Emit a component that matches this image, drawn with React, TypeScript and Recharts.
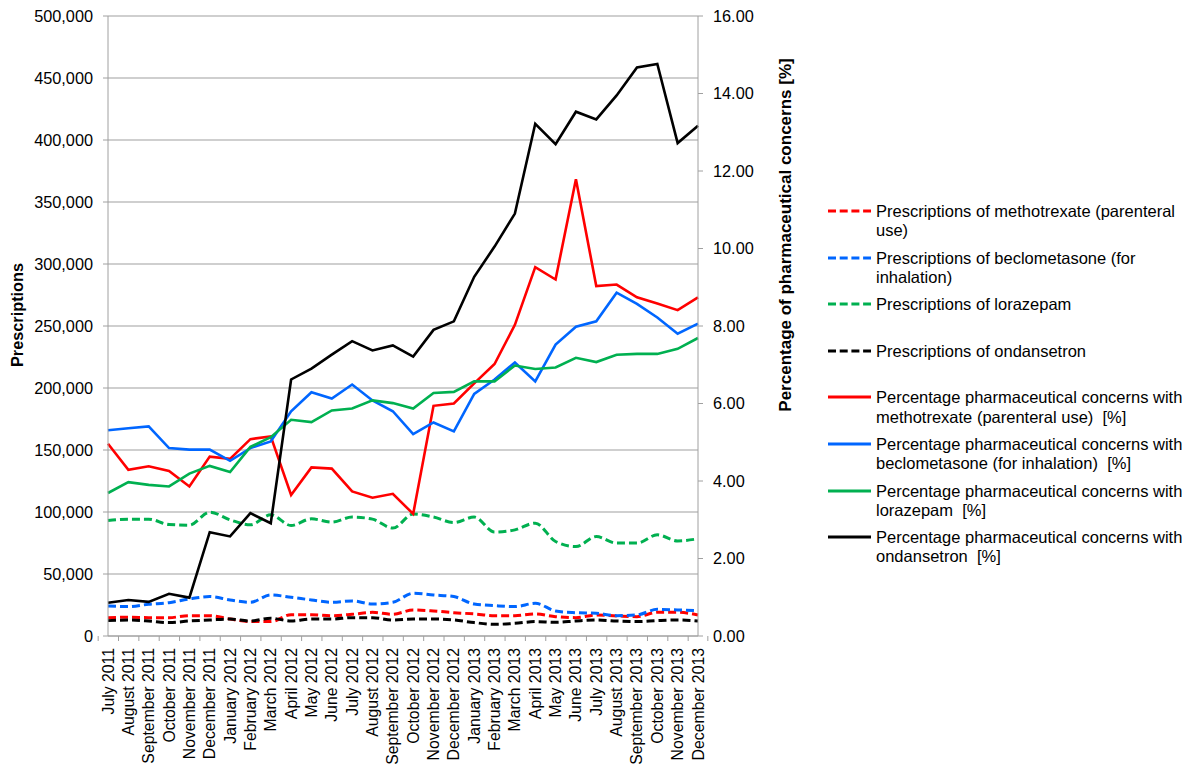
import React from "react";
import {
  LineChart,
  Line,
  XAxis,
  YAxis,
  CartesianGrid,
  Legend,
  Label,
} from "recharts";

const months = [
  "July 2011", "August 2011", "September 2011", "October 2011", "November 2011", "December 2011",
  "January 2012", "February 2012", "March 2012", "April 2012", "May 2012", "June 2012",
  "July 2012", "August 2012", "September 2012", "October 2012", "November 2012", "December 2012",
  "January 2013", "February 2013", "March 2013", "April 2013", "May 2013", "June 2013",
  "July 2013", "August 2013", "September 2013", "October 2013", "November 2013", "December 2013",
];

// prescriptions (left axis)
const rxMethotrexate = [
  14800, 15100, 14800, 14800, 16400, 16400, 13700, 11600, 11600, 17200, 17200, 16400, 17500, 19100, 17500,
  21000, 20200, 18800, 17800, 16400, 16400, 17800, 15600, 14800, 17000, 16200, 15600, 19100, 19100, 17000,
];
const rxBeclometasone = [
  24200, 23700, 25600, 26900, 29900, 31800, 29100, 27200, 33100, 31200, 29100, 27200, 28300, 25800, 27200,
  34500, 33100, 31800, 25800, 24500, 23700, 26400, 20200, 18800, 18300, 16400, 17000, 21500, 21000, 20400,
];
const rxLorazepam = [
  93150, 94250, 94250, 89900, 89400, 99900, 93700, 89700, 97700, 89100, 94500, 91800, 95900, 94250, 87000,
  98300, 95900, 91500, 95900, 83800, 85600, 91000, 76200, 72100, 80200, 74900, 74900, 81600, 76700, 78400,
];
const rxOndansetron = [
  12400, 12900, 12100, 10800, 12100, 12900, 13700, 12100, 14300, 12100, 13700, 13700, 14800, 14800, 12900,
  13700, 13700, 12900, 10800, 9400, 10200, 11600, 11000, 12100, 12900, 12100, 11600, 12400, 12900, 12100,
];

// percentage of pharmaceutical concerns (right axis)
const pctMethotrexate = [
  4.96, 4.29, 4.38, 4.26, 3.86, 4.63, 4.57, 5.08, 5.15, 3.64, 4.35, 4.32, 3.73, 3.57, 3.67,
  3.15, 5.94, 6.0, 6.52, 7.02, 8.03, 9.52, 9.2, 11.79, 9.03, 9.07, 8.74, 8.58, 8.41, 8.74,
];
const pctBeclometasone = [
  5.31, 5.36, 5.41, 4.85, 4.81, 4.81, 4.52, 4.85, 5.02, 5.8, 6.29, 6.13, 6.49, 6.08, 5.8,
  5.21, 5.51, 5.28, 6.25, 6.62, 7.06, 6.57, 7.52, 7.98, 8.12, 8.86, 8.57, 8.22, 7.8, 8.06,
];
const pctLorazepam = [
  3.69, 3.97, 3.9, 3.86, 4.19, 4.39, 4.23, 4.88, 5.13, 5.58, 5.52, 5.82, 5.87, 6.08, 6.01,
  5.87, 6.27, 6.3, 6.57, 6.57, 6.98, 6.89, 6.93, 7.18, 7.07, 7.26, 7.28, 7.28, 7.41, 7.69,
];
const pctOndansetron = [
  0.86, 0.93, 0.88, 1.09, 0.99, 2.68, 2.57, 3.17, 2.91, 6.62, 6.9, 7.26, 7.61, 7.37, 7.5,
  7.21, 7.9, 8.12, 9.27, 10.05, 10.9, 13.22, 12.69, 13.53, 13.33, 13.95, 14.67, 14.76, 12.72, 13.17,
];

const leftTicks = [0, 50000, 100000, 150000, 200000, 250000, 300000, 350000, 400000, 450000, 500000];
const rightTicks = [0, 2, 4, 6, 8, 10, 12, 14, 16];

const RED = "#ff0000";
const BLUE = "#0066ff";
const GREEN = "#00b050";
const BLACK = "#000000";
const GRID = "#a0a0a0";
const FONT = "'Liberation Sans', Arial, sans-serif";
const HALF_BAND = 590 / 30 / 2;

const series = [
  { key: "rxM", name: "Prescriptions of methotrexate (parenteral use)", color: RED, dashed: true, values: rxMethotrexate },
  { key: "rxB", name: "Prescriptions of beclometasone (for inhalation)", color: BLUE, dashed: true, values: rxBeclometasone },
  { key: "rxL", name: "Prescriptions of lorazepam", color: GREEN, dashed: true, values: rxLorazepam },
  { key: "rxO", name: "Prescriptions of ondansetron", color: BLACK, dashed: true, values: rxOndansetron },
  { key: "pcM", name: "Percentage pharmaceutical concerns with methotrexate (parenteral use)  [%]", color: RED, dashed: false, values: pctMethotrexate },
  { key: "pcB", name: "Percentage pharmaceutical concerns with beclometasone (for inhalation)  [%]", color: BLUE, dashed: false, values: pctBeclometasone },
  { key: "pcL", name: "Percentage pharmaceutical concerns with lorazepam  [%]", color: GREEN, dashed: false, values: pctLorazepam },
  { key: "pcO", name: "Percentage pharmaceutical concerns with ondansetron  [%]", color: BLACK, dashed: false, values: pctOndansetron },
];

const data = months.map((month, i) => {
  const row: Record<string, string | number> = { month };
  series.forEach((s) => {
    row[s.key] = s.values[i];
  });
  return row;
});

function MonthTick(props: any) {
  const { x, y, payload, index, visibleTicksCount } = props;
  const axisY = y - 12;
  return (
    <g>
      <line x1={x - HALF_BAND} x2={x - HALF_BAND} y1={axisY} y2={axisY + 5} stroke={GRID} />
      {index === visibleTicksCount - 1 && (
        <line x1={x + HALF_BAND} x2={x + HALF_BAND} y1={axisY} y2={axisY + 5} stroke={GRID} />
      )}
      <text
        x={x}
        y={y}
        transform={`rotate(-90 ${x} ${y})`}
        textAnchor="end"
        dy="0.35em"
        fontSize={15.8}
        fill="#000"
        fontFamily={FONT}
      >
        {payload.value}
      </text>
    </g>
  );
}

function LeftTitle(props: any) {
  const { viewBox } = props;
  const x = viewBox.x + 17;
  const y = 315;
  return (
    <text x={x} y={y} transform={`rotate(-90 ${x} ${y})`} textAnchor="middle" dy="0.35em"
      fontSize={16.3} fontWeight="bold" fill="#000" fontFamily={FONT}>
      Prescriptions
    </text>
  );
}

function RightTitle(props: any) {
  const { viewBox } = props;
  const x = viewBox.x + 87;
  const y = 235;
  return (
    <text x={x} y={y} transform={`rotate(-90 ${x} ${y})`} textAnchor="middle" dy="0.35em"
      fontSize={17} fontWeight="bold" fill="#000" fontFamily={FONT}>
      Percentage of pharmaceutical concerns [%]
    </text>
  );
}

function LegendBox() {
  return (
    <div style={{ fontFamily: FONT, fontSize: 16.5, color: "#000" }}>
      {series.map((s) => (
        <div key={s.key} style={{ display: "flex", height: 46.6, alignItems: "flex-start" }}>
          <svg width={50} height={19} style={{ flex: "none" }}>
            <line
              x1={2}
              x2={45}
              y1={9}
              y2={9}
              stroke={s.color}
              strokeWidth={3}
              strokeDasharray={s.dashed ? "8 3.7" : undefined}
            />
          </svg>
          <div style={{ width: 318, lineHeight: "19.3px", whiteSpace: "pre-wrap" }}>{s.name}</div>
        </div>
      ))}
    </div>
  );
}

export default function App() {
  return (
    <div style={{ position: "absolute", left: 0, top: 0, fontFamily: FONT }}>
      <LineChart
        width={1198}
        height={769}
        data={data}
        margin={{ top: 16, right: 400, bottom: 0, left: 0 }}
      >
        <CartesianGrid yAxisId="rx" vertical={false} stroke={GRID} strokeWidth={1.2} />
        <XAxis
          dataKey="month"
          height={133}
          interval={0}
          tick={<MonthTick />}
          tickLine={false}
          tickSize={5}
          tickMargin={7}
          axisLine={{ stroke: GRID }}
        />
        <YAxis
          yAxisId="rx"
          width={108}
          domain={[0, 500000]}
          ticks={leftTicks}
          tickFormatter={(v: number) => v.toLocaleString("en-US")}
          tick={{ fill: "#000", fontSize: 16.3, fontFamily: FONT }}
          tickSize={5}
          tickMargin={10}
          tickLine={{ stroke: GRID }}
          axisLine={{ stroke: GRID }}
        >
          <Label content={<LeftTitle />} />
        </YAxis>
        <YAxis
          yAxisId="pct"
          orientation="right"
          width={100}
          domain={[0, 16]}
          ticks={rightTicks}
          tickFormatter={(v: number) => v.toFixed(2)}
          tick={{ fill: "#000", fontSize: 16.3, fontFamily: FONT, textAnchor: "start" }}
          tickSize={5}
          tickMargin={10}
          tickLine={{ stroke: GRID }}
          axisLine={{ stroke: GRID }}
        >
          <Label content={<RightTitle />} />
        </YAxis>
        <Legend
          layout="vertical"
          align="center"
          verticalAlign="middle"
          content={<LegendBox />}
          wrapperStyle={{ left: 826, top: 202, width: 372 }}
        />
        {series.map((s) => (
          <Line
            key={s.key}
            yAxisId={s.dashed ? "rx" : "pct"}
            dataKey={s.key}
            name={s.name}
            type={s.dashed ? "monotone" : "linear"}
            stroke={s.color}
            strokeWidth={s.dashed ? 3 : 2.6}
            strokeDasharray={s.dashed ? "8 4" : undefined}
            dot={false}
            activeDot={false}
            isAnimationActive={false}
          />
        ))}
      </LineChart>
    </div>
  );
}
